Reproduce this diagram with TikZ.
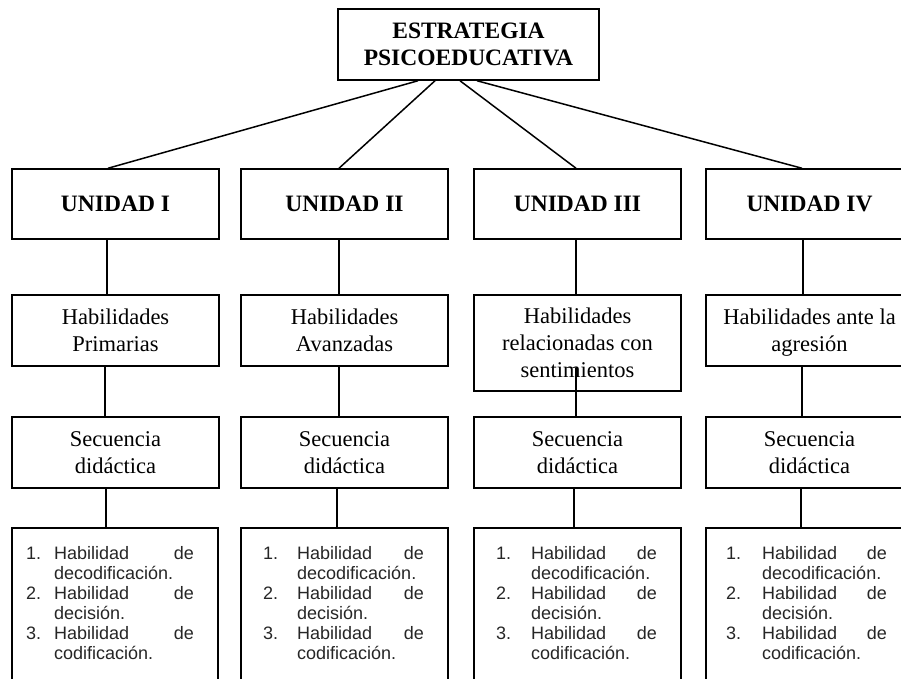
\documentclass[tikz,border=0pt]{standalone}
\usepackage{fontspec}
\setmainfont{Liberation Serif}
\newfontfamily\arialfont{Liberation Sans}
\begin{document}
\begin{tikzpicture}[x=1pt,y=-1pt,
  box/.style={draw, line width=1.5pt, rectangle, minimum width=207pt, minimum height=71pt,
    inner sep=0pt, align=center, font=\fontsize{22.5}{27}\selectfont},
  boldbox/.style={box, font=\bfseries\fontsize{23.5}{27}\selectfont},
  conn/.style={line width=1.5pt},
  listtxt/.style={inner sep=0pt, font=\arialfont\fontsize{18}{20}\selectfont, text=black!85}]
\useasboundingbox (0,0) rectangle (901,678);
\clip (0,0) rectangle (901,678);
% top
\node[boldbox, minimum width=261pt] (top) at (468.5,44.5) {ESTRATEGIA\\PSICOEDUCATIVA};
% units
\node[boldbox, minimum height=70pt] (u1) at (115.5,204) {UNIDAD I};
\node[boldbox, minimum height=70pt] (u2) at (344.5,204) {UNIDAD II};
\node[boldbox, minimum height=70pt] (u3) at (577.5,204) {UNIDAD III};
\node[boldbox, minimum height=70pt] (u4) at (809.5,204) {UNIDAD IV};
% habilidades
\node[box] (h1) at (115.5,330.5) {Habilidades\\Primarias};
\node[box] (h2) at (344.5,330.5) {Habilidades\\Avanzadas};
\node[box, minimum height=96pt] (h3) at (577.5,343) {Habilidades\\relacionadas con\\sentimientos};
\node[box, text depth=0pt] (h4) at (809.5,330.5) {Habilidades ante la\\agresión};
% secuencia
\node[box] (s1) at (115.5,452.5) {Secuencia\\didáctica};
\node[box] (s2) at (344.5,452.5) {Secuencia\\didáctica};
\node[box] (s3) at (577.5,452.5) {Secuencia\\didáctica};
\node[box] (s4) at (809.5,452.5) {Secuencia\\didáctica};
% list boxes
\node[box, minimum height=200pt, minimum width=206pt] (b1) at (115,628) {};
\node[box, minimum height=200pt] (b2) at (344.5,628) {};
\node[box, minimum height=200pt] (b3) at (577.5,628) {};
\node[box, minimum height=200pt] (b4) at (809.5,628) {};
% connectors top -> units
\draw[conn] ([xshift=-50.5pt]top.south) -- ([xshift=-7.5pt]u1.north);
\draw[conn] ([xshift=-33.5pt]top.south) -- ([xshift=-5.5pt]u2.north);
\draw[conn] ([xshift=-8.5pt]top.south) -- ([xshift=-1.5pt]u3.north);
\draw[conn] ([xshift=8.5pt]top.south) -- ([xshift=-7.5pt]u4.north);
% units -> habilidades
\draw[conn] ([xshift=-8.5pt]u1.south) -- ([xshift=-8.5pt]h1.north);
\draw[conn] ([xshift=-5.5pt]u2.south) -- ([xshift=-5.5pt]h2.north);
\draw[conn] ([xshift=-1.5pt]u3.south) -- ([xshift=-1.5pt]h3.north);
\draw[conn] ([xshift=-6.5pt]u4.south) -- ([xshift=-6.5pt]h4.north);
% habilidades -> secuencia
\draw[conn] ([xshift=-10.5pt]h1.south) -- ([xshift=-10.5pt]s1.north);
\draw[conn] ([xshift=-5.5pt]h2.south) -- ([xshift=-5.5pt]s2.north);
\draw[conn] ([xshift=-1.5pt,yshift=24pt]h3.south) -- ([xshift=-1.5pt]s3.north);
\draw[conn] ([xshift=-7.5pt]h4.south) -- ([xshift=-7.5pt]s4.north);
% secuencia -> list
\draw[conn] ([xshift=-9.5pt]s1.south) -- ([xshift=-9pt]b1.north);
\draw[conn] ([xshift=-7.5pt]s2.south) -- ([xshift=-7.5pt]b2.north);
\draw[conn] ([xshift=-3.5pt]s3.south) -- ([xshift=-3.5pt]b3.north);
\draw[conn] ([xshift=-8.5pt]s4.south) -- ([xshift=-8.5pt]b4.north);
% list texts
\foreach \i/\n/\t/\r in {1/26/54/194, 2/263/297/424, 3/496/531/657, 4/726/762/887}{
  \node[listtxt, anchor=base west] (n1\i) at (\n,559) {1.};
  \node[listtxt, anchor=base west] (a1\i) at (\t,559) {Habilidad};
  \node[listtxt, anchor=base east] (d1\i) at (\r,559) {de};
  \node[listtxt, anchor=base west] (c1\i) at (\t,579) {decodificación.};
  \node[listtxt, anchor=base west] (n2\i) at (\n,599) {2.};
  \node[listtxt, anchor=base west] (a2\i) at (\t,599) {Habilidad};
  \node[listtxt, anchor=base east] (d2\i) at (\r,599) {de};
  \node[listtxt, anchor=base west] (c2\i) at (\t,619) {decisión.};
  \node[listtxt, anchor=base west] (n3\i) at (\n,639) {3.};
  \node[listtxt, anchor=base west] (a3\i) at (\t,639) {Habilidad};
  \node[listtxt, anchor=base east] (d3\i) at (\r,639) {de};
  \node[listtxt, anchor=base west] (c3\i) at (\t,659) {codificación.};
}
\end{tikzpicture}
\end{document}
